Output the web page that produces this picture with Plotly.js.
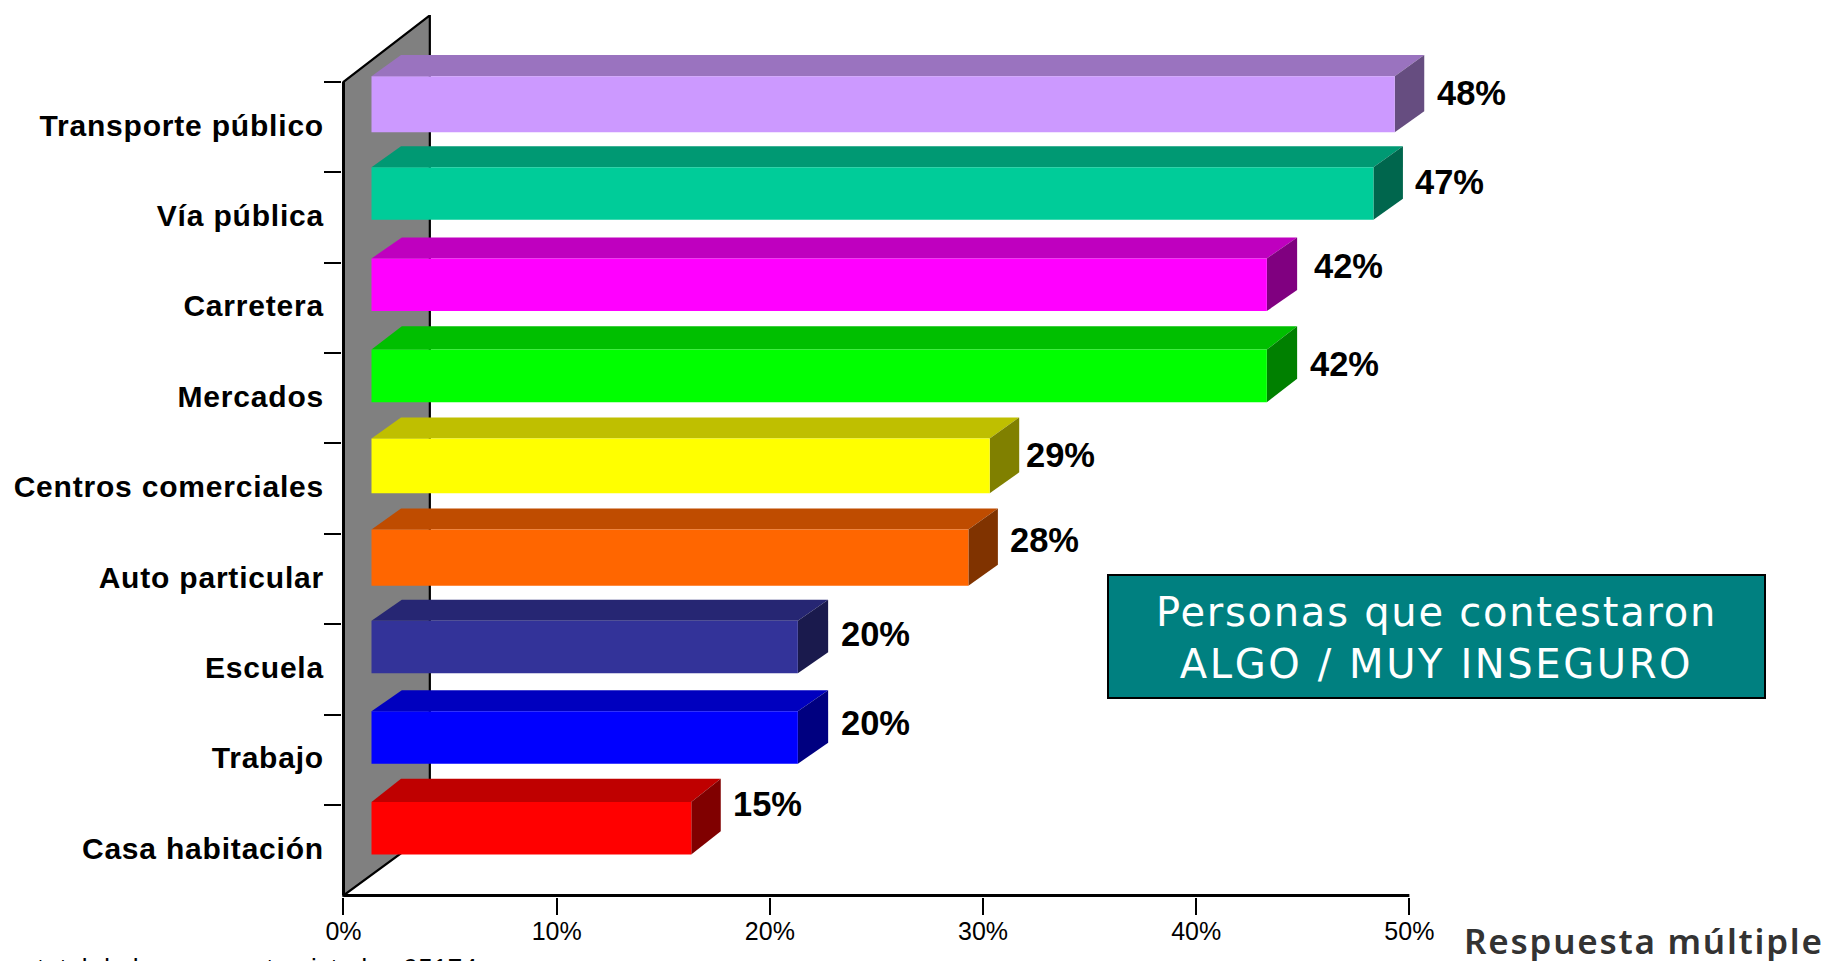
<!DOCTYPE html>
<html><head><meta charset="utf-8">
<script src="https://cdn.plot.ly/plotly-3.0.1.min.js"></script>
<style>html,body{margin:0;padding:0;background:#fff;overflow:hidden}
.ytick text{letter-spacing:0.8px}</style>
</head><body><div id="chart" style="width:1830px;height:961px"></div>
<script>
var categories = ["Transporte público","Vía pública","Carretera","Mercados","Centros comerciales","Auto particular","Escuela","Trabajo","Casa habitación"];
var values = [48,47,42,42,29,28,20,20,15];
var frontColors = ["#CC99FF","#00CC99","#FF00FF","#00FF00","#FFFF00","#FF6600","#333399","#0000FF","#FF0000"];
var topColors = ["#9A73BF","#009973","#BF00BF","#00BF00","#BFBF00","#BF4C00","#262673","#0000BF","#BF0000"];
var sideColors = ["#664D80","#00664D","#800080","#008000","#808000","#803300","#1A1A4D","#000080","#800000"];
var xTicks = [0,10,20,30,40,50];
var xTickText = ["0%","10%","20%","30%","40%","50%"];
var boxLine1 = "Personas que contestaron";
var boxLine2 = "ALGO / MUY INSEGURO";
var cornerText = "Respuesta múltiple";
var footText = "total de hogares entrevistados 95174";

// small per-row drawing nudges, in px
var labelDx = [0,0,4.5,0.5,-6,0,0,0,0];
var labelDy = [0,1,8,0,0,5,1.5,3,12];
var barTopNudge = [-1.7,-0.9,-0.2,0.6,-0.9,-0.2,0.6,0.6,1];
var barHeightNudge = [1.8,-1.7,-1.7,-1.7,0.6,1.8,-1.7,-1.7,-1.7];
var depthXpx = [29.5,29.5,30.3,30.3,29.5,29.5,30.3,30.3,29.5];
var depthYpx = [21,21,21,23.3,21,21,21,21,23.3];

// scales
var PX_PER_UNIT = 21.32, PX_PER_BAND = 90.37;
var zeroX = 343, baseY = 895;
var slackX = 0.07, slackY = 0.017;
var xMax = 52, yMin = -1.24;
var yBottom = 8.5 + slackY;
var plotL = zeroX - slackX*PX_PER_UNIT;
var plotB = baseY + slackY*PX_PER_BAND;
var plotW = (xMax+slackX)*PX_PER_UNIT;
var plotH = (yBottom-yMin)*PX_PER_BAND;
var plotT = plotB - plotH;
function paperX(p){return (p-plotL)/plotW;}
function paperY(p){return (plotB-p)/plotH;}

var barBase = 1.314, barOffset = -0.545, barHeightBands = 0.60;
var wallDepthX = 4.05, wallTop = -0.736, wallBot = -0.70;

var offsets = barTopNudge.map(function(n){return barOffset + n/PX_PER_BAND;});
var widths = barHeightNudge.map(function(n){return barHeightBands + n/PX_PER_BAND;});

function poly(pts){return "M"+pts.map(function(p){return p[0]+","+p[1];}).join("L")+"Z";}
var shapes = [];
shapes.push({type:"path",layer:"below",xref:"x",yref:"y",fillcolor:"#808080",
  line:{color:"#000",width:2.2},
  path:poly([[0,-0.5],[wallDepthX,-0.5+wallTop],[wallDepthX,8.5+wallBot],[0,8.5]])});
shapes.push({type:"line",layer:"below",xref:"x",yref:"y",x0:0,x1:0,y0:-0.5,y1:8.5,line:{color:"#000",width:3}});
shapes.push({type:"line",layer:"below",xref:"x",yref:"y",x0:0,x1:50,y0:8.5,y1:8.5,line:{color:"#000",width:3}});
values.forEach(function(v,i){
  var t = i+offsets[i], b = t+widths[i], x0 = barBase, x1 = barBase+v;
  var dx = depthXpx[i]/PX_PER_UNIT, dy = -depthYpx[i]/PX_PER_BAND;
  shapes.push({type:"path",layer:"below",xref:"x",yref:"y",fillcolor:topColors[i],line:{width:0},
    path:poly([[x0,t],[x1,t],[x1+dx,t+dy],[x0+dx,t+dy]])});
  shapes.push({type:"path",layer:"below",xref:"x",yref:"y",fillcolor:sideColors[i],line:{width:0},
    path:poly([[x1,t],[x1+dx,t+dy],[x1+dx,b+dy],[x1,b]])});
});
var annotations = values.map(function(v,i){
  return {x:barBase+v+depthXpx[i]/PX_PER_UNIT,y:categories[i],xref:"x",yref:"y",text:v+"%",showarrow:false,
    xanchor:"left",yanchor:"middle",xshift:10.5+labelDx[i],yshift:34+labelDy[i],
    font:{family:"Liberation Sans",size:34.5,color:"#000",weight:"bold"}};
});
annotations.push({xref:"paper",yref:"paper",x:paperX(1107),y:paperY(574),
  xanchor:"left",yanchor:"top",width:655,height:121,align:"center",valign:"middle",
  text:"<span style='letter-spacing:1.75px'>"+boxLine1+"</span><br><span style='letter-spacing:2.6px'>"+boxLine2+"</span>",
  showarrow:false,bgcolor:"#008080",bordercolor:"#000",borderwidth:2,borderpad:0,
  font:{family:"DejaVu Sans",size:40,color:"#fff"}});
annotations.push({xref:"paper",yref:"paper",x:paperX(1462),y:paperY(940),
  xanchor:"left",yanchor:"middle",text:"<span style='letter-spacing:1.75px'>"+cornerText+"</span>",showarrow:false,
  font:{family:"Noto Sans",size:35,color:"#333",weight:600}});
annotations.push({xref:"paper",yref:"paper",x:paperX(34),y:paperY(968),
  xanchor:"left",yanchor:"middle",text:"<span style='letter-spacing:0.35px'>"+footText+"</span>",showarrow:false,
  font:{family:"Liberation Sans",size:26,color:"#000"}});

var bars = {type:"bar",orientation:"h",y:categories,x:values,base:barBase,offset:offsets,width:widths,
  marker:{color:frontColors,line:{width:0}},hoverinfo:"y+x"};

Plotly.newPlot("chart",[bars],{
  width:1830,height:961,autosize:false,showlegend:false,
  paper_bgcolor:"#fff",plot_bgcolor:"rgba(0,0,0,0)",
  margin:{l:plotL,r:1830-plotL-plotW,t:plotT,b:961-plotB,pad:0},
  xaxis:{type:"linear",range:[-slackX,xMax],tickmode:"array",tickvals:xTicks,ticktext:xTickText,
    ticks:"outside",ticklen:17,tickwidth:2,tickcolor:"#000",showgrid:false,zeroline:false,showline:false,
    ticklabelstandoff:-5,
    tickfont:{family:"Liberation Sans",size:25,color:"#000"}},
  yaxis:{type:"category",categoryorder:"array",categoryarray:categories,range:[yBottom,yMin],
    tickson:"boundaries",ticks:"outside",ticklen:17,tickwidth:2,tickcolor:"#000",
    showgrid:false,zeroline:false,showline:false,ticklabelstandoff:17,
    tickfont:{family:"Liberation Sans",size:30,color:"#000",weight:"bold"}},
  shapes:shapes,annotations:annotations
},{displayModeBar:false,staticPlot:true}).then(function(){
  document.querySelectorAll(".ytick text").forEach(function(t){
    t.setAttribute("y", parseFloat(t.getAttribute("y"))-2);
  });
  document.querySelectorAll(".annotation-text tspan.line").forEach(function(t){
    if(/Personas|ALGO/.test(t.textContent)) t.setAttribute("y", parseFloat(t.getAttribute("y"))+1.5);
  });
});
</script></body></html>
